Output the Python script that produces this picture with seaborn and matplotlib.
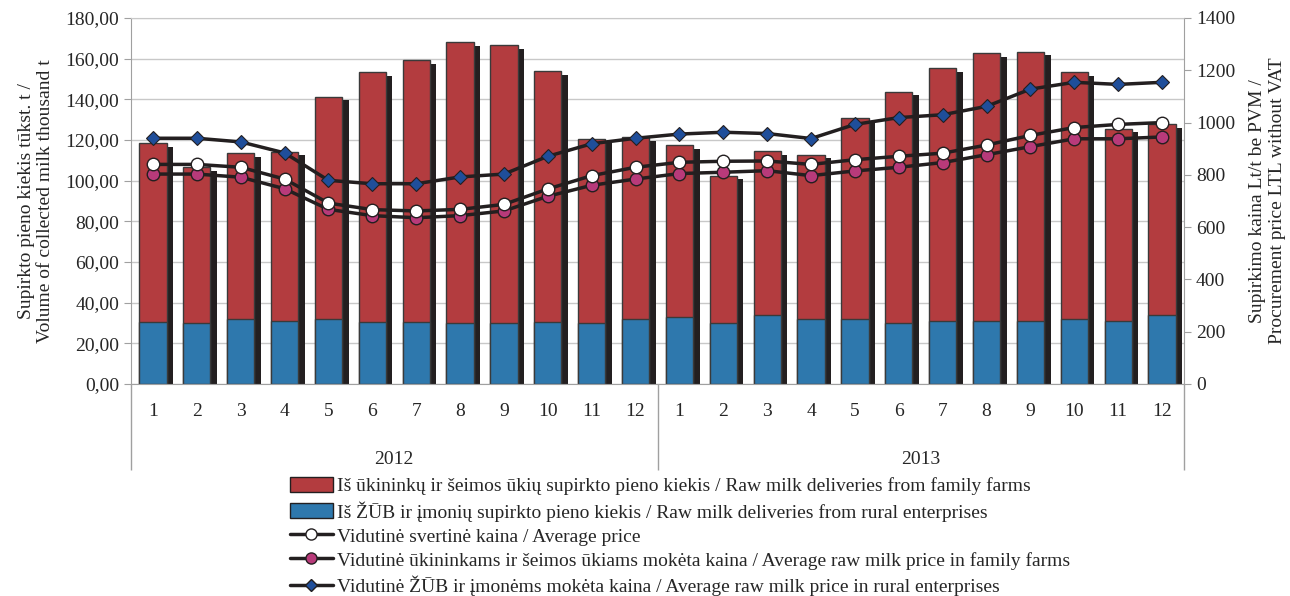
import numpy as np
import matplotlib
matplotlib.use("Agg")
import matplotlib.pyplot as plt
import seaborn as sns
from matplotlib.ticker import FuncFormatter, FixedLocator
from matplotlib.patches import Patch
from matplotlib.lines import Line2D

# ---------------------------------
# Data
# ---------------------------------

months = ["1", "2", "3", "4", "5", "6", "7", "8", "9", "10", "11", "12"] * 2
years = ["2012", "2013"]

# total collected milk, thousand t
total_volume = [118.5, 106.6, 113.5, 114.3, 141.3, 153.3, 159.4, 168.2, 166.7, 154.0, 120.7, 121.5,
                117.6, 102.5, 114.4, 112.8, 131.0, 143.8, 155.4, 162.7, 163.5, 153.3, 125.6, 127.7]
# from rural enterprises (blue part)
rural_volume = [30.5, 29.8, 32.1, 31.1, 32.1, 30.5, 30.5, 29.8, 29.8, 30.5, 29.8, 32.1,
                33.1, 29.8, 33.8, 32.1, 32.1, 29.8, 31.1, 31.1, 31.1, 32.1, 31.1, 33.8]

avg_price = [840, 840, 829, 784, 692, 667, 662, 668, 687, 746, 797, 829,
             848, 852, 853, 840, 858, 871, 883, 914, 951, 981, 993, 1000]
family_price = [803, 803, 791, 747, 668, 644, 636, 644, 662, 718, 760, 784,
                805, 810, 816, 797, 815, 829, 847, 877, 908, 938, 938, 945]
rural_price = [940, 940, 926, 884, 779, 766, 766, 792, 803, 871, 919, 940,
               956, 963, 958, 939, 993, 1019, 1030, 1062, 1128, 1154, 1146, 1154]

labels = [
    "Iš ūkininkų ir šeimos ūkių supirkto pieno kiekis / Raw milk deliveries from family farms",
    "Iš ŽŪB ir įmonių supirkto pieno kiekis / Raw milk deliveries from rural enterprises",
    "Vidutinė svertinė kaina / Average price",
    "Vidutinė ūkininkams ir šeimos ūkiams mokėta kaina / Average raw milk price in family farms",
    "Vidutinė ŽŪB ir įmonėms mokėta kaina / Average raw milk price in rural enterprises",
]

RED = "#B33C3F"
BLUE = "#2E78AD"
DARK = "#231F20"
MAGENTA = "#B83A7A"
DIAMOND = "#1F4E9A"

# ---------------------------------
# Style
# ---------------------------------

sns.set_style("white")
plt.rcParams["font.family"] = ["Liberation Serif", "DejaVu Serif"]
plt.rcParams["font.size"] = 14

x = np.arange(len(months))
total_volume = np.array(total_volume)

fig = plt.figure(figsize=(12.9, 5.96), dpi=100)
ax = fig.add_axes([131 / 1290, 1 - 384 / 596, (1184 - 131) / 1290, (384 - 18) / 596])

# shadow bars (3D effect)
sns.barplot(x=x + 0.15, y=total_volume - 1.8, native_scale=True, width=0.62,
            color=DARK, saturation=1, errorbar=None, linewidth=0, ax=ax)
# totals (red) then rural enterprises part (blue) on top
sns.barplot(x=x, y=total_volume, native_scale=True, width=0.62,
            color=RED, saturation=1, errorbar=None, edgecolor="#3a3a3a", linewidth=1, ax=ax)
sns.barplot(x=x, y=rural_volume, native_scale=True, width=0.62,
            color=BLUE, saturation=1, errorbar=None, edgecolor="#3a3a3a", linewidth=1, ax=ax)

ax.set_xlim(-0.5, 23.5)
ax.set_ylim(0, 180)
ax.set_yticks(np.arange(0, 181, 20))
ax.yaxis.set_major_formatter(FuncFormatter(lambda v, p: f"{v:.2f}".replace(".", ",")))
ax.yaxis.grid(True, color="#c8c8c8", linewidth=1)
ax.set_axisbelow(True)

# month labels + separators
ax.set_xticks(x)
ax.set_xticklabels(months)
ax.tick_params(axis="x", which="major", length=0, pad=14)
ax.xaxis.set_minor_locator(FixedLocator([i + 0.5 for i in range(23) if i != 11]))
ax.tick_params(axis="x", which="minor", length=32, width=1, color="#a0a0a0", direction="out")
ax.tick_params(axis="y", length=5, color="#a0a0a0", direction="out")

# year labels + long separators
sec = ax.secondary_xaxis("bottom")
sec.set_xticks([-0.5, 11.5, 23.5])
sec.set_xticklabels(["", "", ""])
sec.tick_params(axis="x", length=62, width=1, color="#a0a0a0")
sec.spines["bottom"].set_visible(False)
sec2 = ax.secondary_xaxis("bottom")
sec2.set_xticks([5.5, 17.5])
sec2.set_xticklabels(years)
sec2.tick_params(axis="x", length=0, pad=48)
sec2.spines["bottom"].set_visible(False)

for s in ["left", "right", "bottom"]:
    ax.spines[s].set_color("#a0a0a0")
ax.spines["top"].set_color("#c8c8c8")

ax.set_ylabel("Supirkto pieno kiekis tūkst. t /\nVolume of collected milk thousand t",
              fontsize=14, labelpad=8, linespacing=1.2)

# ---------------------------------
# Price lines on secondary axis
# ---------------------------------

ax2 = ax.twinx()
sns.lineplot(x=x, y=rural_price, ax=ax2, color=DARK, linewidth=2.5, marker="D",
             markersize=7, markerfacecolor=DIAMOND, markeredgecolor=DARK, markeredgewidth=0.8)
sns.lineplot(x=x, y=family_price, ax=ax2, color=DARK, linewidth=2.5, marker="o",
             markersize=9, markerfacecolor=MAGENTA, markeredgecolor=DARK, markeredgewidth=1)
sns.lineplot(x=x, y=avg_price, ax=ax2, color=DARK, linewidth=2.5, marker="o",
             markersize=9, markerfacecolor="white", markeredgecolor=DARK, markeredgewidth=1)
ax2.set_ylim(0, 1400)
ax2.set_yticks(np.arange(0, 1401, 200))
ax2.tick_params(axis="y", length=5, color="#a0a0a0", direction="out")
ax2.set_ylabel("Supirkimo kaina Lt/t be PVM /\nProcurement price LTL without VAT",
               fontsize=14, labelpad=10, linespacing=1.2)
for s in ["left", "right", "bottom", "top"]:
    ax2.spines[s].set_visible(False)

# ---------------------------------
# Legend
# ---------------------------------

handles = [
    Patch(facecolor=RED, edgecolor=DARK, linewidth=1),
    Patch(facecolor=BLUE, edgecolor=DARK, linewidth=1),
    Line2D([], [], color=DARK, linewidth=2.5, marker="o", markersize=8,
           markerfacecolor="white", markeredgecolor=DARK),
    Line2D([], [], color=DARK, linewidth=2.5, marker="o", markersize=8,
           markerfacecolor=MAGENTA, markeredgecolor=DARK),
    Line2D([], [], color=DARK, linewidth=2.5, marker="D", markersize=6,
           markerfacecolor=DIAMOND, markeredgecolor=DARK),
]
fig.legend(handles, labels, loc="upper left", bbox_to_anchor=(290 / 1290, 1 - 477 / 596),
           frameon=False, fontsize=14, handlelength=2.2, handleheight=0.8,
           labelspacing=0.3, handletextpad=0.2, borderaxespad=0, borderpad=0)

plt.savefig("out.png", dpi=100)
